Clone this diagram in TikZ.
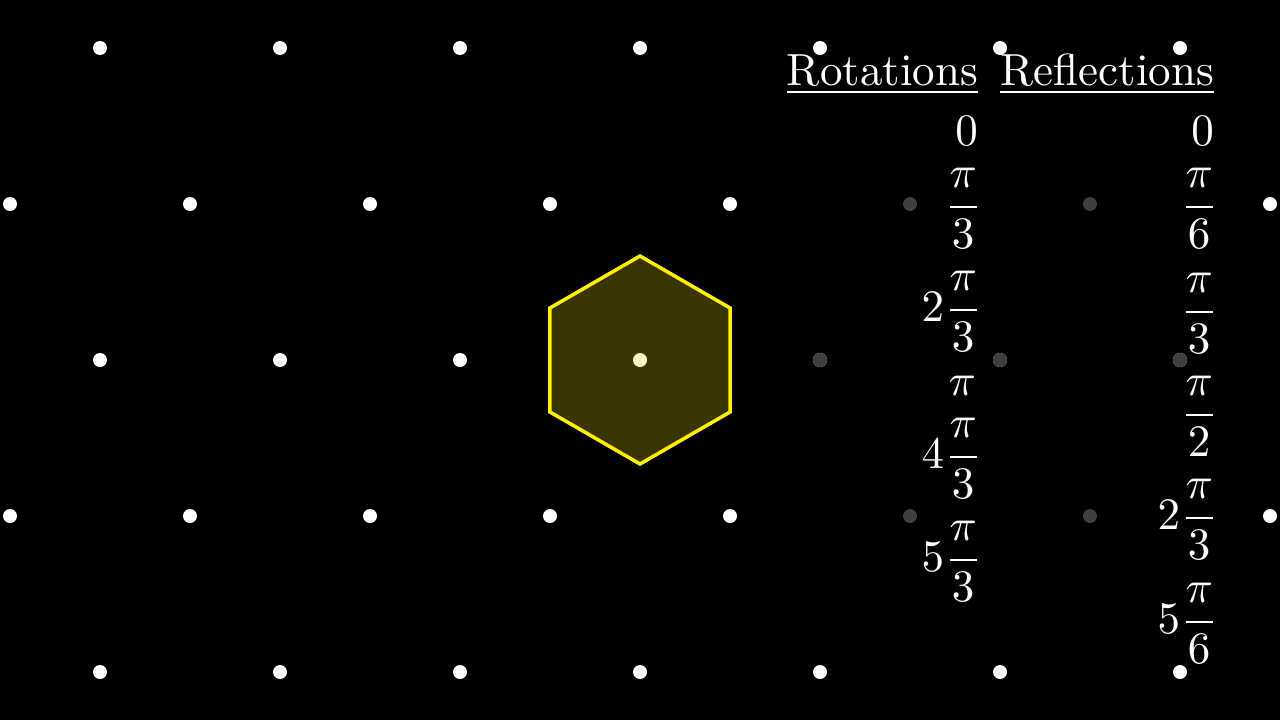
\documentclass[tikz,border=0pt]{standalone}
\usepackage{graphicx}
\newcommand{\bigtxt}[1]{\scalebox{4.5}{#1}}
\begin{document}
\begin{tikzpicture}[x=1pt,y=-1pt,
  lbl/.style={text=white, inner sep=0pt},
  dotw/.style={fill=white},
  dotg/.style={fill=white!25!black},
  hexa/.style={draw=yellow, line width=3.5pt, fill=yellow, fill opacity=0.22, line join=miter},
  uline/.style={draw=white, line width=2pt}]
\useasboundingbox[fill=black] (0,0) rectangle (1280,720);
% lattice
\foreach \y in {48,360,672}{
  \foreach \x in {100,280,460,640,820,1000,1180}{
    \fill[dotw] (\x,\y) circle[radius=7pt];
  }
}
\foreach \y in {204,516}{
  \foreach \x in {10,190,370,550,730,1270}{
    \fill[dotw] (\x,\y) circle[radius=7pt];
  }
}
\foreach \x/\y in {910/204,1090/204,820/360,1000/360,1180/360,910/516,1090/516}{
  \fill[dotg] (\x,\y) circle[radius=7pt];
}
% hexagon
\draw[hexa] (640,256) -- (730.07,308) -- (730.07,412) -- (640,464) -- (549.93,412) -- (549.93,308) -- cycle;
% headers
\node[lbl, anchor=base east] (rot) at (978,85) {\bigtxt{Rotations}};
\node[lbl, anchor=base east] (ref) at (1214,85) {\bigtxt{Reflections}};
\draw[uline] ([yshift=-7pt]rot.base west) -- ([yshift=-7pt]rot.base east);
\draw[uline] ([yshift=-7pt]ref.base west) -- ([yshift=-7pt]ref.base east);
% rotations column
\node[lbl, anchor=base east] (r0) at (978,145) {\bigtxt{$0$}};
\node[lbl, anchor=base east] (r1) at (982.4,218) {\bigtxt{$\displaystyle\frac{\pi}{3}$}};
\node[lbl, anchor=base east] (r2) at (982.4,321) {\bigtxt{$\displaystyle2\frac{\pi}{3}$}};
\node[lbl, anchor=base east] (r3) at (976,395) {\bigtxt{$\pi$}};
\node[lbl, anchor=base east] (r4) at (982.4,468) {\bigtxt{$\displaystyle4\frac{\pi}{3}$}};
\node[lbl, anchor=base east] (r5) at (982.4,571) {\bigtxt{$\displaystyle5\frac{\pi}{3}$}};
% reflections column
\node[lbl, anchor=base east] (f0) at (1214,145) {\bigtxt{$0$}};
\node[lbl, anchor=base east] (f1) at (1218.4,218) {\bigtxt{$\displaystyle\frac{\pi}{6}$}};
\node[lbl, anchor=base east] (f2) at (1218.4,323) {\bigtxt{$\displaystyle\frac{\pi}{3}$}};
\node[lbl, anchor=base east] (f3) at (1218.4,426) {\bigtxt{$\displaystyle\frac{\pi}{2}$}};
\node[lbl, anchor=base east] (f4) at (1218.4,529) {\bigtxt{$\displaystyle2\frac{\pi}{3}$}};
\node[lbl, anchor=base east] (f5) at (1218.4,633) {\bigtxt{$\displaystyle5\frac{\pi}{6}$}};
\end{tikzpicture}
\end{document}
